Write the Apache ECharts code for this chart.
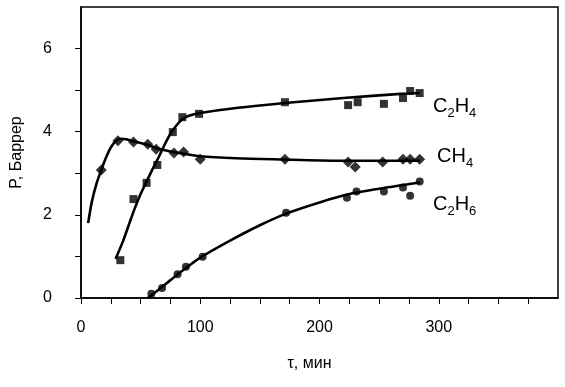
<!DOCTYPE html>
<html>
<head>
<meta charset="utf-8">
<script src="https://cdn.jsdelivr.net/npm/echarts@6/dist/echarts.min.js"></script>
<style>html,body{margin:0;padding:0;background:#fff;}#c{width:565px;height:387px;}</style>
</head>
<body>
<div id="c"></div>
<script>
// Measured points [τ, P]
var c2h4Points = [[33,0.91],[44,2.38],[55,2.77],[64,3.20],[77,3.99],[85,4.35],[99,4.43],[171,4.71],[224,4.64],[232,4.71],[254,4.67],[270,4.81],[276,4.98],[284,4.93]];
var ch4Points = [[17,3.08],[31,3.78],[44,3.75],[56,3.70],[63,3.58],[78,3.49],[86,3.51],[100,3.34],[171,3.34],[224,3.27],[230,3.15],[253,3.27],[270,3.34],[276,3.34],[284,3.34]];
var c2h6Points = [[59,0.10],[68,0.24],[81,0.57],[88,0.75],[102,0.99],[172,2.05],[223,2.41],[231,2.56],[254,2.56],[270,2.66],[276,2.46],[284,2.80]];
// Trend curves
var c2h4Curve = [[29,0.94],[35,1.35],[40,1.75],[45,2.15],[50,2.5],[55,2.8],[60,3.1],[65,3.38],[70,3.68],[75,3.95],[80,4.15],[85,4.3],[90,4.38],[100,4.45],[130,4.57],[171,4.69],[220,4.81],[268,4.91],[284,4.93]];
var ch4Curve = [[6,1.80],[9,2.3],[13,2.75],[17,3.08],[21,3.38],[25,3.62],[29,3.77],[33,3.83],[38,3.82],[44,3.77],[55,3.69],[65,3.59],[80,3.5],[100,3.41],[130,3.36],[171,3.33],[220,3.3],[284,3.3]];
var c2h6Curve = [[56,0.0],[65,0.2],[75,0.43],[88,0.72],[100,0.97],[125,1.38],[150,1.75],[172,2.03],[200,2.3],[225,2.5],[250,2.63],[284,2.78]];
var xLabels = [0,100,200,300];
var yLabels = [0,2,4,6];
var xName = 'τ, мин';
var yName = 'P, Баррер';

var chart = echarts.init(document.getElementById('c'), null, {renderer:'canvas'});
var font = 'Liberation Sans, Arial, sans-serif';
function curve(d){return {type:'line', data:d, smooth:0.3, showSymbol:false, symbol:'none', lineStyle:{color:'#000', width:2.6}, silent:true, z:2};}
function pts(d, sym, size){return {type:'scatter', data:d, symbol:sym, symbolSize:size, itemStyle:{color:'#000'}, z:3};}
function gasLabel(x, y, parts){
  var t = parts.map(function(p){return '{'+(p[1]?'s':'b')+'|'+p[0]+'}';}).join('');
  return {type:'text', left:x, top:y, style:{text:t, fill:'#000', rich:{
    b:{fontSize:20, fontFamily:font, fill:'#000', lineHeight:24, verticalAlign:'middle'},
    s:{fontSize:13, fontFamily:font, fill:'#000', lineHeight:24, padding:[14,0,0,0], verticalAlign:'middle'}
  }}};
}
chart.setOption({
  animation:false,
  backgroundColor:'#fff',
  grid:{left:81, right:7, top:7, bottom:89, show:true, borderColor:'#000', borderWidth:1.5, backgroundColor:'transparent'},
  xAxis:{type:'value', min:0, max:400, interval:25,
    name:xName, nameLocation:'middle', nameGap:58, nameTextStyle:{fontSize:16, fontFamily:font, color:'#000', padding:[0,20,0,0]},
    axisLine:{show:true, onZero:false, lineStyle:{color:'#000', width:1.5}},
    axisTick:{show:true, inside:false, length:6, lineStyle:{color:'#000', width:1}},
    splitLine:{show:false},
    axisLabel:{fontSize:16, fontFamily:font, color:'#000', margin:22, showMaxLabel:false,
      formatter:function(v){return xLabels.indexOf(v)>=0 ? String(v) : '';}}
  },
  yAxis:{type:'value', min:0, max:7, interval:1,
    name:yName, nameLocation:'middle', nameGap:56, nameRotate:90, nameTextStyle:{fontSize:16, fontFamily:font, color:'#000'},
    axisLine:{show:true, onZero:false, lineStyle:{color:'#000', width:1.5}},
    axisTick:{show:true, inside:false, length:6, lineStyle:{color:'#000', width:1}},
    splitLine:{show:false},
    axisLabel:{fontSize:16, fontFamily:font, color:'#000', margin:29, showMaxLabel:false,
      formatter:function(v){return yLabels.indexOf(v)>=0 ? String(v) : '';}}
  },
  series:[
    curve(c2h4Curve), curve(ch4Curve), curve(c2h6Curve),
    pts(c2h4Points,'rect',8), pts(ch4Points,'diamond',11), pts(c2h6Points,'circle',8)
  ],
  graphic:[
    gasLabel(433, 93, [['C',0],['2',1],['H',0],['4',1]]),
    gasLabel(437, 143, [['CH',0],['4',1]]),
    gasLabel(433, 191, [['C',0],['2',1],['H',0],['6',1]])
  ]
});
</script>
</body>
</html>
